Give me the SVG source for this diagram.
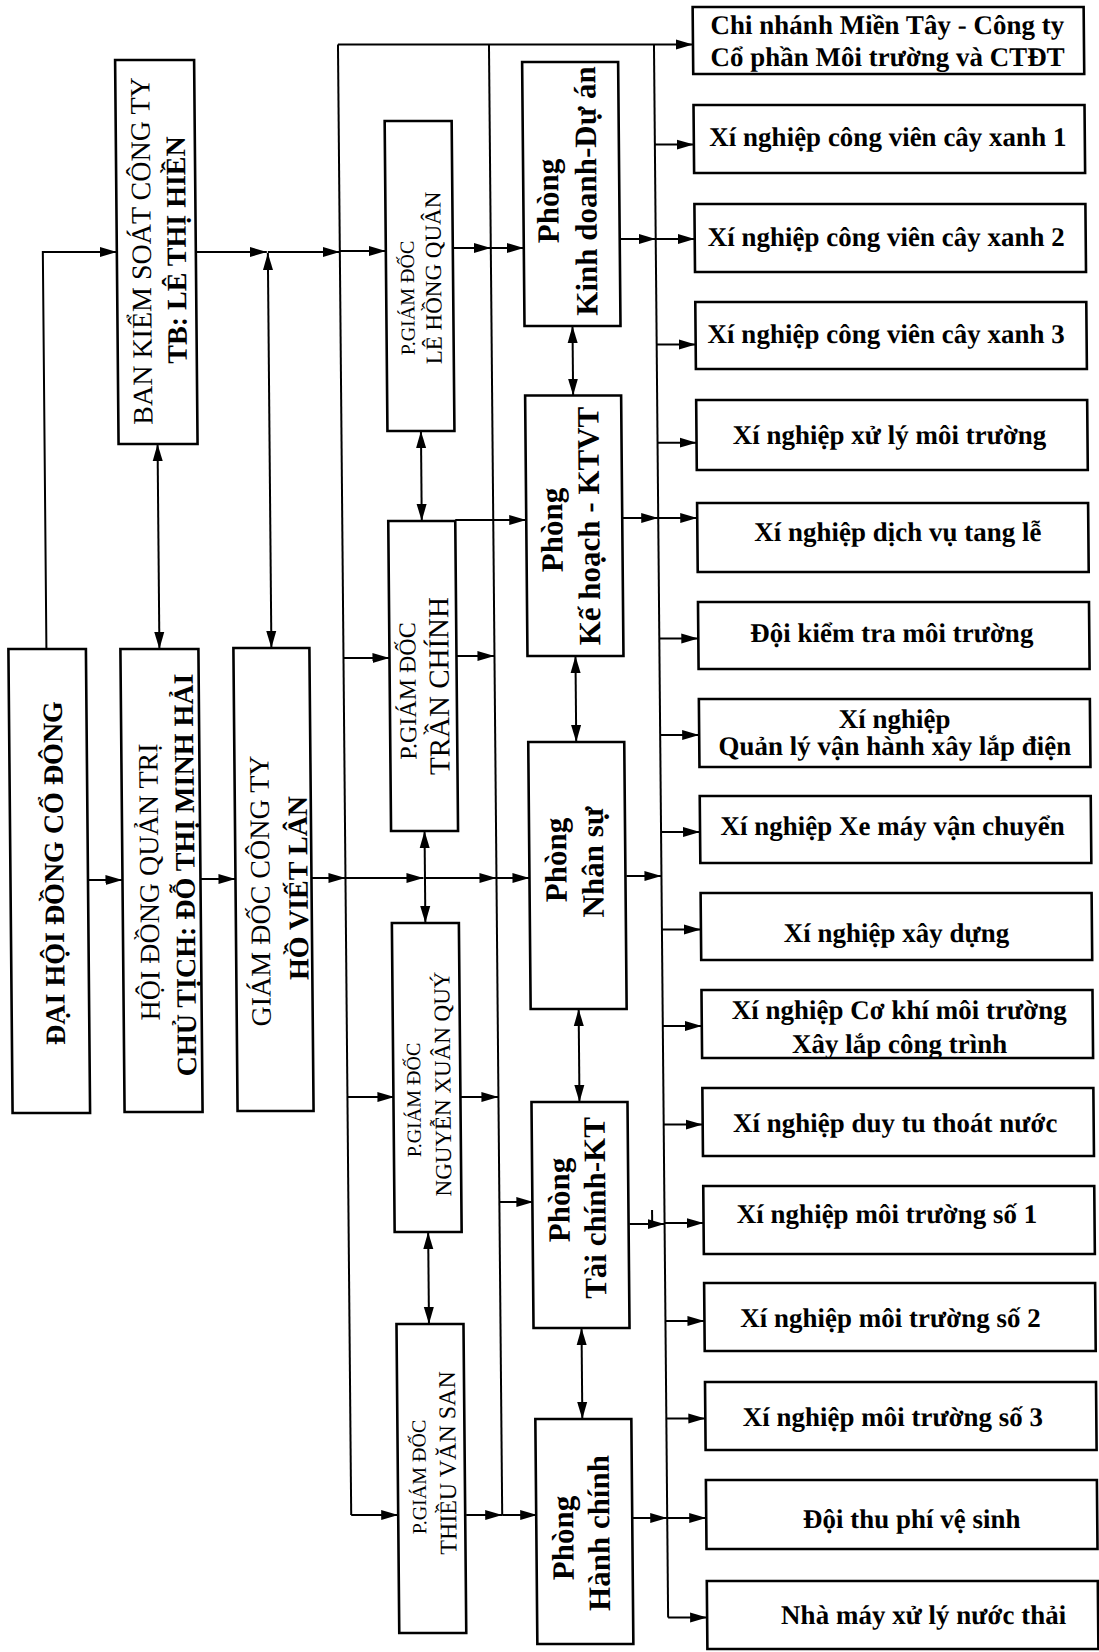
<svg xmlns="http://www.w3.org/2000/svg" width="1099" height="1652" viewBox="0 0 1099 1652">
<defs>
<marker id="ah" markerUnits="userSpaceOnUse" markerWidth="18" markerHeight="11" refX="17" refY="5.5" orient="auto-start-reverse"><path d="M0,0.5 L17,5.5 L0,10.5 Z" fill="#000"/></marker>
</defs>
<style>
.box{fill:#fff;stroke:#000;stroke-width:2.6}
.ln{fill:none;stroke:#000;stroke-width:2}
.ar{fill:none;stroke:#000;stroke-width:2;marker-end:url(#ah)}
.da{fill:none;stroke:#000;stroke-width:2;marker-start:url(#ah);marker-end:url(#ah)}
text{font-family:"Liberation Serif","Times New Roman",serif;fill:#000;text-anchor:middle}
.b{font-weight:bold}
.t28{font-size:28px}
.p1{font-size:20px}
.p2{font-size:23px}
.ph{font-size:31px;font-weight:bold}
.rt{font-size:27px;font-weight:bold}
</style>
<rect width="1099" height="1652" fill="#fff"/>
<g transform="matrix(1,0,0.009,1,-7.434,0)">
<g id="connectors">
<path class="ln" d="M345,44.6 V1515"/>
<path class="ar" d="M345,1515 H392"/>
<path class="ar" d="M345,44.6 H700"/>
<path class="ln" d="M496,44.6 V1515"/>
<path class="ln" d="M661,44.6 V1617.5"/>
<path class="ar" d="M661,1617.5 H700"/>
<path class="ar" d="M48,649 V252 H122"/>
<path class="ar" d="M200.5,252 H272"/>
<path class="ar" d="M273,252 H345"/>
<path class="ar" d="M345,251 H391"/>
<path class="da" d="M161,444 V649"/>
<path class="da" d="M273,253 V648"/>
<path class="ar" d="M87.5,880 H122"/>
<path class="ar" d="M200,879 H235"/>
<path class="ar" d="M311,878 H345"/>
<path class="ar" d="M345,878 H423"/>
<path class="ar" d="M424.5,878 H496"/>
<path class="ar" d="M496,878 H529"/>
<path class="ar" d="M458,248 H496"/>
<path class="ar" d="M496,248 H529"/>
<path class="ar" d="M345,658 H391"/>
<path class="ar" d="M458,656 H496"/>
<path class="ar" d="M458,520 H529"/>
<path class="ar" d="M345,1097 H392"/>
<path class="ar" d="M458,1097 H496"/>
<path class="ar" d="M460,1515 H496"/>
<path class="ar" d="M496,1515 H531"/>
<path class="ar" d="M496,1202 H530"/>
<path class="da" d="M424.5,431 V521"/>
<path class="da" d="M424.5,831 V923"/>
<path class="da" d="M424.5,1232 V1324"/>
<path class="da" d="M577,326 V395.5"/>
<path class="da" d="M577,656 V742"/>
<path class="da" d="M577,1009 V1102"/>
<path class="da" d="M577,1328 V1419"/>
<path class="ar" d="M624,239 H661"/>
<path class="ar" d="M661,239 H700"/>
<path class="ar" d="M625,518 H661"/>
<path class="ar" d="M661,518 H700"/>
<path class="ar" d="M626,876 H661"/>
<path class="ar" d="M626,1224 H661"/>
<path class="ln" d="M648.6,1210 V1224"/>
<path class="ar" d="M661,1223 H700"/>
<path class="ar" d="M626,1518 H661"/>
<path class="ar" d="M661,1518 H700"/>
<path class="ar" d="M661,144.6 H700"/>
<path class="ar" d="M661,344.5 H700"/>
<path class="ar" d="M661,442.7 H700"/>
<path class="ar" d="M661,638.5 H700"/>
<path class="ar" d="M661,735 H700"/>
<path class="ar" d="M661,832 H700"/>
<path class="ar" d="M661,929.5 H700"/>
<path class="ar" d="M661,1026 H700"/>
<path class="ar" d="M661,1124.6 H700"/>
<path class="ar" d="M661,1321 H700"/>
<path class="ar" d="M661,1418.6 H700"/>
</g>
<g id="bks"><rect class="box" x="122" y="60" width="79" height="384"/>
<text class="t28" transform="translate(156,251) rotate(-90)">BAN KIỂM SOÁT CÔNG TY</text>
<text class="t28 b" transform="translate(191,250) rotate(-90)">TB: LÊ THỊ HIỀN</text></g>
<g id="dhcd"><rect class="box" x="10" y="649" width="77.5" height="464"/>
<text class="t28 b" transform="translate(63,873) rotate(-90)">ĐẠI HỘI ĐỒNG CỔ ĐÔNG</text></g>
<g id="hdqt"><rect class="box" x="122" y="649" width="78" height="463"/>
<text class="t28" transform="translate(158,882) rotate(-90)">HỘI ĐỒNG QUẢN TRỊ</text>
<text class="t28 b" transform="translate(194,875) rotate(-90)">CHỦ TỊCH: ĐỖ THỊ MINH HẢI</text></g>
<g id="gd"><rect class="box" x="235" y="648" width="76" height="463"/>
<text class="t28" transform="translate(269,891) rotate(-90)">GIÁM ĐỐC CÔNG TY</text>
<text class="t28 b" transform="translate(307,888) rotate(-90)">HỒ VIẾT LÂN</text></g>
<g id="pgd1"><rect class="box" x="391" y="121" width="67" height="310"/>
<text class="p1" transform="translate(419,298) rotate(-90)">P.GIÁM ĐỐC</text>
<text class="p2" transform="translate(446,278) rotate(-90)">LÊ HỒNG QUÂN</text></g>
<g id="pgd2"><rect class="box" x="391" y="521" width="67" height="310"/>
<text style="font-size:24px" transform="translate(417,691) rotate(-90)">P.GIÁM ĐỐC</text>
<text style="font-size:29px" transform="translate(450,686) rotate(-90)">TRẦN CHÍNH</text></g>
<g id="pgd3"><rect class="box" x="391" y="923" width="67" height="309"/>
<text class="p1" transform="translate(418,1100) rotate(-90)">P.GIÁM ĐỐC</text>
<text class="p2" transform="translate(448,1084) rotate(-90)">NGUYỄN XUÂN QUÝ</text></g>
<g id="pgd4"><rect class="box" x="392" y="1324" width="67" height="309"/>
<text class="p1" transform="translate(420,1477) rotate(-90)">P.GIÁM ĐỐC</text>
<text style="font-size:24px" transform="translate(450,1463) rotate(-90)">THIỀU VĂN SAN</text></g>
<g id="pkd"><rect class="box" x="529" y="62" width="96" height="264"/>
<text class="ph" transform="translate(564,201) rotate(-90)">Phòng</text>
<text class="ph" transform="translate(602,191) rotate(-90)">Kinh doanh-Dự án</text></g>
<g id="pkh"><rect class="box" x="529" y="395.5" width="96" height="260.5"/>
<text class="ph" transform="translate(565,530) rotate(-90)">Phòng</text>
<text class="ph" transform="translate(602,526) rotate(-90)">Kế hoạch - KTVT</text></g>
<g id="pns"><rect class="box" x="529" y="742" width="96" height="267"/>
<text class="ph" transform="translate(566,860) rotate(-90)">Phòng</text>
<text class="ph" transform="translate(603,862) rotate(-90)">Nhân sự</text></g>
<g id="ptc"><rect class="box" x="529" y="1102" width="96" height="226"/>
<text class="ph" transform="translate(566,1200) rotate(-90)">Phòng</text>
<text class="ph" transform="translate(602,1208) rotate(-90)">Tài chính-KT</text></g>
<g id="phc"><rect class="box" x="530" y="1419" width="96" height="225"/>
<text class="ph" transform="translate(567,1538) rotate(-90)">Phòng</text>
<text class="ph" transform="translate(603,1533) rotate(-90)">Hành chính</text></g>
<g id="r1"><rect class="box" x="700" y="7" width="391" height="67"/>
<text class="rt" x="894.5" y="34">Chi nhánh Miền Tây - Công ty</text>
<text class="rt" x="894.5" y="66">Cổ phần Môi trường và CTĐT</text></g>
<g id="r2"><rect class="box" x="700" y="105" width="391" height="68"/><text class="rt" x="894" y="146">Xí nghiệp công viên cây xanh 1</text></g>
<g id="r3"><rect class="box" x="700" y="204" width="391" height="68"/><text class="rt" x="891.5" y="246">Xí nghiệp công viên cây xanh 2</text></g>
<g id="r4"><rect class="box" x="700" y="302" width="391" height="67"/><text class="rt" x="890.5" y="343">Xí nghiệp công viên cây xanh 3</text></g>
<g id="r5"><rect class="box" x="700" y="400" width="391" height="70"/><text class="rt" x="893" y="444">Xí nghiệp xử lý môi trường</text></g>
<g id="r6"><rect class="box" x="700" y="503" width="391" height="69"/><text class="rt" x="900.5" y="541">Xí nghiệp dịch vụ tang lễ</text></g>
<g id="r7"><rect class="box" x="700" y="602" width="391" height="67"/><text class="rt" x="893.5" y="642">Đội kiểm tra môi trường</text></g>
<g id="r8"><rect class="box" x="700" y="699" width="391" height="68"/>
<text class="rt" x="895.5" y="728">Xí nghiệp</text>
<text class="rt" x="895.5" y="755">Quản lý vận hành xây lắp điện</text></g>
<g id="r9"><rect class="box" x="700" y="796" width="391" height="67"/><text class="rt" x="892.5" y="835">Xí nghiệp Xe máy vận chuyển</text></g>
<g id="r10"><rect class="box" x="700" y="893" width="391" height="67"/><text class="rt" x="895.5" y="942">Xí nghiệp xây dựng</text></g>
<g id="r11"><rect class="box" x="700" y="990" width="391" height="68"/>
<text class="rt" x="897.5" y="1019">Xí nghiệp Cơ khí môi trường</text>
<text class="rt" x="897.5" y="1053">Xây lắp công trình</text></g>
<g id="r12"><rect class="box" x="700" y="1088" width="391" height="68"/><text class="rt" x="892.5" y="1132">Xí nghiệp duy tu thoát nước</text></g>
<g id="r13"><rect class="box" x="700" y="1186" width="391" height="68"/><text class="rt" x="883.5" y="1223">Xí nghiệp môi trường số 1</text></g>
<g id="r14"><rect class="box" x="700" y="1283" width="391" height="68"/><text class="rt" x="886" y="1327">Xí nghiệp môi trường số 2</text></g>
<g id="r15"><rect class="box" x="700" y="1382" width="391" height="68"/><text class="rt" x="887.5" y="1426">Xí nghiệp môi trường số 3</text></g>
<g id="r16"><rect class="box" x="700" y="1480" width="391" height="69"/><text class="rt" x="905.5" y="1528">Đội thu phí vệ sinh</text></g>
<g id="r17"><rect class="box" x="700" y="1581" width="391" height="68"/><text class="rt" x="916.5" y="1624.5">Nhà máy xử lý nước thải</text></g>
</g>
</svg>
